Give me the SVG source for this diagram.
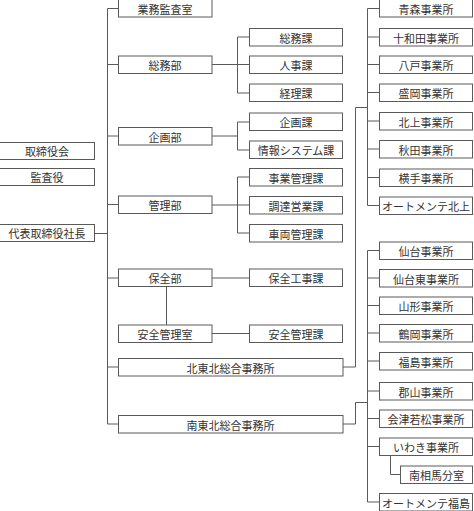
<svg xmlns="http://www.w3.org/2000/svg" width="474" height="511" viewBox="0 0 474 511">
<style>
rect{fill:#fff;stroke:#5a5a5a;stroke-width:1}
text{font-family:"Noto Sans CJK JP","Noto Sans CJK SC",sans-serif;font-size:11px;fill:#333;text-anchor:middle;dominant-baseline:central}
#connectors path{fill:none;stroke:#5a5a5a;stroke-width:1}
</style>
<rect x="0" y="0" width="474" height="511" style="stroke:none"/>
<g id="connectors">
<path d="M118 8.5H107.5V424H118M107.5 64.5H118M107.5 136H118M107.5 204.5H118M107.5 278H118M107.5 367H118M95 233.5H107.5"/>
<path d="M212 64.5H237.5M249 37H237.5V93H249M237.5 64.5H249"/>
<path d="M212 136H237.5M249 122H237.5V150H249"/>
<path d="M212 205H237.5M249 177H237.5V233H249M237.5 205H249"/>
<path d="M212 278H249M166.5 287V325M212 333.5H249"/>
<path d="M343 367H355.5V107.5H367.5"/>
<path d="M379 8.5H367.5V205.5H379M367.5 37H379M367.5 64.5H379M367.5 92.5H379M367.5 121H379M367.5 149H379M367.5 177.5H379"/>
<path d="M343 424H355.5V402.5H367.5"/>
<path d="M379 250.5H367.5V502H379M367.5 278H379M367.5 305.5H379M367.5 333H379M367.5 361H379M367.5 391H379M367.5 418.5H379M367.5 446.5H379"/>
<path d="M390.5 455V474.5H400"/>
</g>
<g id="n-torishimariyakukai"><rect x="-0.5" y="142.5" width="95" height="17"/><text x="47" y="151">取締役会</text></g>
<g id="n-kansayaku"><rect x="-0.5" y="168.5" width="95" height="17"/><text x="47" y="177">監査役</text></g>
<g id="n-shacho"><rect x="-0.5" y="224.5" width="95" height="17"/><text x="47" y="233">代表取締役社長</text></g>

<g id="n-gyomukansa"><rect x="118.5" y="-0.5" width="93.5" height="17.5"/><text x="165" y="8.5">業務監査室</text></g>
<g id="n-somubu"><rect x="118.5" y="56" width="93.5" height="17.5"/><text x="165" y="65">総務部</text></g>
<g id="n-kikakubu"><rect x="118.5" y="127.5" width="93.5" height="17.5"/><text x="165" y="136.5">企画部</text></g>
<g id="n-kanribu"><rect x="118.5" y="196" width="93.5" height="17.5"/><text x="165" y="205">管理部</text></g>
<g id="n-hozenbu"><rect x="118.5" y="269" width="93.5" height="17.5"/><text x="165" y="278">保全部</text></g>
<g id="n-anzenkanrishitsu"><rect x="118.5" y="325" width="93.5" height="17.5"/><text x="165" y="334">安全管理室</text></g>
<g id="n-kitatohoku"><rect x="118.5" y="358.5" width="224.5" height="17.5"/><text x="230.5" y="367.5">北東北総合事務所</text></g>
<g id="n-minamitohoku"><rect x="118.5" y="415.5" width="224.5" height="17.5"/><text x="230.5" y="424.5">南東北総合事務所</text></g>

<g id="n-somuka"><rect x="249.5" y="28.5" width="93" height="17.5"/><text x="296" y="37.5">総務課</text></g>
<g id="n-jinjika"><rect x="249.5" y="56" width="93" height="17.5"/><text x="296" y="65">人事課</text></g>
<g id="n-keirika"><rect x="249.5" y="84" width="93" height="17.5"/><text x="296" y="93">経理課</text></g>
<g id="n-kikakuka"><rect x="249.5" y="113" width="93" height="17.5"/><text x="296" y="122">企画課</text></g>
<g id="n-johosystemka"><rect x="249.5" y="141" width="93" height="17.5"/><text x="296" y="150">情報システム課</text></g>
<g id="n-jigyokanrika"><rect x="249.5" y="168.5" width="93" height="17.5"/><text x="296" y="177.5">事業管理課</text></g>
<g id="n-chotatsueigyoka"><rect x="249.5" y="196.5" width="93" height="17.5"/><text x="296" y="205.5">調達営業課</text></g>
<g id="n-sharyokanrika"><rect x="249.5" y="224.5" width="93" height="17.5"/><text x="296" y="233.5">車両管理課</text></g>
<g id="n-hozenkojika"><rect x="249.5" y="269" width="93" height="17.5"/><text x="296" y="278">保全工事課</text></g>
<g id="n-anzenkanrika"><rect x="249.5" y="325" width="93" height="17.5"/><text x="296" y="334">安全管理課</text></g>

<g id="n-aomori"><rect x="379.5" y="-0.5" width="93" height="17.5"/><text x="426" y="8.5">青森事業所</text></g>
<g id="n-towada"><rect x="379.5" y="28.5" width="93" height="17.5"/><text x="426" y="37.5">十和田事業所</text></g>
<g id="n-hachinohe"><rect x="379.5" y="56" width="93" height="17.5"/><text x="426" y="65">八戸事業所</text></g>
<g id="n-morioka"><rect x="379.5" y="84" width="93" height="17.5"/><text x="426" y="93">盛岡事業所</text></g>
<g id="n-kitakami"><rect x="379.5" y="112.5" width="93" height="17.5"/><text x="426" y="121.5">北上事業所</text></g>
<g id="n-akita"><rect x="379.5" y="140.5" width="93" height="17.5"/><text x="426" y="149.5">秋田事業所</text></g>
<g id="n-yokote"><rect x="379.5" y="169" width="93" height="17.5"/><text x="426" y="178">横手事業所</text></g>
<g id="n-automente-kitakami"><rect x="379.5" y="197" width="93" height="17.5"/><text x="426" y="206">オートメンテ北上</text></g>
<g id="n-sendai"><rect x="379.5" y="242" width="93" height="17.5"/><text x="426" y="251">仙台事業所</text></g>
<g id="n-sendaihigashi"><rect x="379.5" y="269.5" width="93" height="17.5"/><text x="426" y="278.5">仙台東事業所</text></g>
<g id="n-yamagata"><rect x="379.5" y="297" width="93" height="17.5"/><text x="426" y="306">山形事業所</text></g>
<g id="n-tsuruoka"><rect x="379.5" y="324.5" width="93" height="17.5"/><text x="426" y="333.5">鶴岡事業所</text></g>
<g id="n-fukushima"><rect x="379.5" y="352.5" width="93" height="17.5"/><text x="426" y="361.5">福島事業所</text></g>
<g id="n-koriyama"><rect x="379.5" y="382.5" width="93" height="17.5"/><text x="426" y="391.5">郡山事業所</text></g>
<g id="n-aizuwakamatsu"><rect x="379.5" y="410" width="93" height="17.5"/><text x="426" y="419">会津若松事業所</text></g>
<g id="n-iwaki"><rect x="379.5" y="438" width="93" height="17.5"/><text x="426" y="447">いわき事業所</text></g>
<g id="n-minamisoma"><rect x="400.5" y="466" width="72" height="17.5"/><text x="436.5" y="475">南相馬分室</text></g>
<g id="n-automente-fukushima"><rect x="379.5" y="493.5" width="93" height="17.5"/><text x="426" y="502.5">オートメンテ福島</text></g>
</svg>
